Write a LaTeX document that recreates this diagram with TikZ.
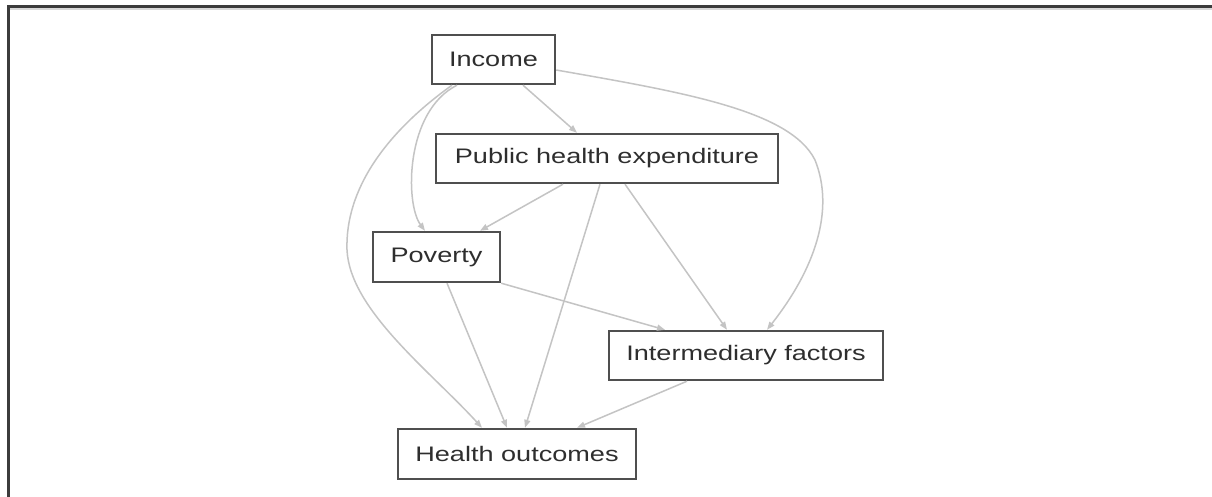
\documentclass[tikz,border=0pt]{standalone}
\usepackage{fontspec}
\setmainfont{Liberation Sans}
\newfontfamily\lblfont[FakeStretch=1.29]{Liberation Sans}
\usetikzlibrary{arrows.meta}
\definecolor{framegray}{HTML}{3C3C3C}
\definecolor{shadegray}{HTML}{D8D8D8}
\definecolor{boxgray}{HTML}{4F4F4F}
\definecolor{txtgray}{HTML}{2E2E2E}
\definecolor{edgegray}{HTML}{C4C4C4}
\begin{document}
\begin{tikzpicture}[x=1pt,y=-1pt,
  box/.style={draw=boxgray, line width=2.4pt, fill=white, inner sep=0pt,
    font=\lblfont\fontsize{21}{25}\selectfont, text=txtgray},
  link/.style={draw=edgegray, line width=1.5pt,
    -{Triangle[length=8pt,width=6pt,fill=edgegray]}}]
\useasboundingbox (0,0) rectangle (1212,497);
\fill[white] (0,0) rectangle (1212,497);

% outer frame (top and left edges) with a soft inner shade
\draw[shadegray, line width=1.5pt] (9.2,497) -- (9.2,9.2) -- (1212,9.2);
\draw[framegray, line width=3pt] (8,497) -- (8,7) -- (1212,7);

% nodes
\node[box, minimum width=123pt, minimum height=49pt] (inc)   at (493.5,59.5) {Income};
\node[box, minimum width=342pt, minimum height=49pt] (phe)   at (607,158.5)  {Public health expenditure};
\node[box, minimum width=127pt, minimum height=50pt] (pov)   at (436.5,257)  {Poverty};
\node[box, minimum width=274pt, minimum height=49pt] (inter) at (746,355.5)  {Intermediary factors};
\node[box, minimum width=238pt, minimum height=50pt] (ho)    at (517,454)    {Health outcomes};

% bend points of the long curved edges
\coordinate (bendL) at (347,250);
\coordinate (bendR) at (815,160);

% edges
\draw[link] ([xshift=29.5pt]inc.south) -- ([xshift=-30pt]phe.north);
\draw[link] ([xshift=-36.5pt]inc.south) .. controls +(-52,26) and +(-20,-27) .. ([xshift=-11.5pt]pov.north);
\draw[link] ([xshift=-41.5pt]inc.south) .. controls +(-67,48) and +(-2,-60) .. (bendL)
            .. controls +(3,60) and +(-52,-57) .. ([xshift=-35pt]ho.north);
\draw[link] ([yshift=-10.5pt]inc.east) .. controls +(125,22) and +(-25,-50) .. (bendR)
            .. controls +(20,50) and +(48,-61) .. ([xshift=21pt]inter.north);
\draw[link] ([xshift=-44pt]phe.south) -- ([xshift=43.5pt]pov.north);
\draw[link] ([xshift=-7pt]phe.south) -- ([xshift=8pt]ho.north);
\draw[link] ([xshift=18pt]phe.south) -- ([xshift=-19pt]inter.north);
\draw[link] (pov.south east) -- ([xshift=-81pt]inter.north);
\draw[link] ([xshift=10.5pt]pov.south) -- ([xshift=-10pt]ho.north);
\draw[link] ([xshift=-59pt]inter.south) -- ([xshift=60pt]ho.north);
\end{tikzpicture}
\end{document}
